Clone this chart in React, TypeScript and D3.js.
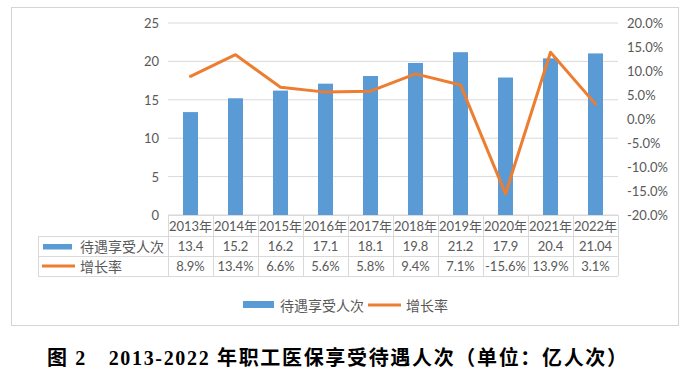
import React from "react";
import * as d3 from "d3";

const years = ["2013年", "2014年", "2015年", "2016年", "2017年", "2018年", "2019年", "2020年", "2021年", "2022年"];
const recipients = [13.4, 15.2, 16.2, 17.1, 18.1, 19.8, 21.2, 17.9, 20.4, 21.04];
const growth = [8.9, 13.4, 6.6, 5.6, 5.8, 9.4, 7.1, -15.6, 13.9, 3.1];
const leftTicks = [0, 5, 10, 15, 20, 25];
const rightTicks = [-20, -15, -10, -5, 0, 5, 10, 15, 20];
const seriesNames = ["待遇享受人次", "增长率"];
const title = "图 2　2013-2022 年职工医保享受待遇人次（单位：亿人次）";

const BLUE = "#5B9BD5";
const ORANGE = "#ED7D31";
const GRID = "#D9D9D9";
const TEXT = "#595959";
const FONT = "Lato, 'Noto Sans CJK SC', sans-serif";

export default function App() {
  const W = 688, H = 382;
  const plotL = 168, plotR = 618, plotT = 23, plotB = 215;
  const x = d3.scaleBand<string>().domain(years).range([plotL, plotR]).paddingInner(0).paddingOuter(0);
  const yL = d3.scaleLinear().domain([0, 25]).range([plotB, plotT]);
  const yR = d3.scaleLinear().domain([-20, 20]).range([plotB, plotT]);
  const bw = x.bandwidth();
  const barW = bw / 3;

  const line = d3
    .line<number>()
    .x((_, i) => (x(years[i]) as number) + bw / 2)
    .y((d) => yR(d));

  const row1T = plotB, row2T = 236, row3T = 256.5, tblB = 276;
  const tblL = 38;

  return (
    <svg width={W} height={H} style={{ position: "absolute", left: 0, top: 0, background: "#fff" }}>
      <rect x={0} y={0} width={W} height={H} fill="#fff" />
      <rect x={11.5} y={7.5} width={667} height={318} fill="#fff" stroke="#D4D4D4" strokeWidth={1} />

      {/* gridlines */}
      {leftTicks.map((t) => (
        <line key={"g" + t} x1={plotL} x2={plotR} y1={yL(t)} y2={yL(t)} stroke={GRID} strokeWidth={1} />
      ))}

      {/* left axis labels */}
      {leftTicks.map((t) => (
        <text key={"l" + t} x={159} y={yL(t)} textAnchor="end" dominantBaseline="central" fontSize={13} fill={TEXT} fontFamily={FONT}>
          {t}
        </text>
      ))}

      {/* right axis labels */}
      {rightTicks.map((t) => (
        <text key={"r" + t} x={627} y={yR(t)} textAnchor="start" dominantBaseline="central" fontSize={13} fill={TEXT} fontFamily={FONT}>
          {t.toFixed(1) + "%"}
        </text>
      ))}

      {/* bars */}
      {recipients.map((v, i) => (
        <rect key={"b" + i} x={(x(years[i]) as number) + bw / 2 - barW / 2} y={yL(v)} width={barW} height={plotB - yL(v)} fill={BLUE} />
      ))}

      {/* line */}
      <path d={line(growth) || ""} fill="none" stroke={ORANGE} strokeWidth={3} strokeLinejoin="round" strokeLinecap="round" />

      {/* data table */}
      <g stroke={GRID} strokeWidth={1} shapeRendering="crispEdges">
        <line x1={plotL} x2={plotR} y1={row1T} y2={row1T} />
        <line x1={tblL} x2={plotR} y1={row2T} y2={row2T} />
        <line x1={tblL} x2={plotR} y1={row3T} y2={row3T} />
        <line x1={tblL} x2={plotR} y1={tblB} y2={tblB} />
        <line x1={tblL} x2={tblL} y1={row2T} y2={tblB} />
        {years.map((yr) => (
          <line key={"v" + yr} x1={x(yr) as number} x2={x(yr) as number} y1={row1T} y2={tblB} />
        ))}
        <line x1={plotR} x2={plotR} y1={row1T} y2={tblB} />
      </g>
      {years.map((yr, i) => {
        const cx = (x(yr) as number) + bw / 2;
        return (
          <g key={"t" + yr} fontFamily={FONT} fontSize={13} fill={TEXT} textAnchor="middle">
            <text x={cx} y={(row1T + row2T) / 2 + 0.5} dominantBaseline="central">{yr}</text>
            <text x={cx} y={(row2T + row3T) / 2} dominantBaseline="central">{String(recipients[i])}</text>
            <text x={cx} y={(row3T + tblB) / 2} dominantBaseline="central">{growth[i].toFixed(1) + "%"}</text>
          </g>
        );
      })}
      {/* table legend keys */}
      <rect x={43} y={244} width={29} height={5.5} fill={BLUE} />
      <line x1={42} x2={75} y1={266} y2={266} stroke={ORANGE} strokeWidth={3} />
      <text x={80} y={(row2T + row3T) / 2} dominantBaseline="central" fontSize={14} fill={TEXT} fontFamily={FONT}>{seriesNames[0]}</text>
      <text x={80} y={(row3T + tblB) / 2} dominantBaseline="central" fontSize={14} fill={TEXT} fontFamily={FONT}>{seriesNames[1]}</text>

      {/* bottom legend */}
      <rect x={243} y={301} width={31} height={7} fill={BLUE} />
      <text x={280} y={305} dominantBaseline="central" fontSize={14} fill={TEXT} fontFamily={FONT}>{seriesNames[0]}</text>
      <line x1={368} x2={401} y1={305} y2={305} stroke={ORANGE} strokeWidth={3} />
      <text x={406} y={305} dominantBaseline="central" fontSize={14} fill={TEXT} fontFamily={FONT}>{seriesNames[1]}</text>

      {/* title */}
      <text x={47} y={358} dominantBaseline="central" fontSize={20} fontWeight="bold" fill="#000"
        fontFamily="'Liberation Serif', 'Noto Sans CJK SC', serif" textLength={580} lengthAdjust="spacing">
        {title}
      </text>
    </svg>
  );
}
